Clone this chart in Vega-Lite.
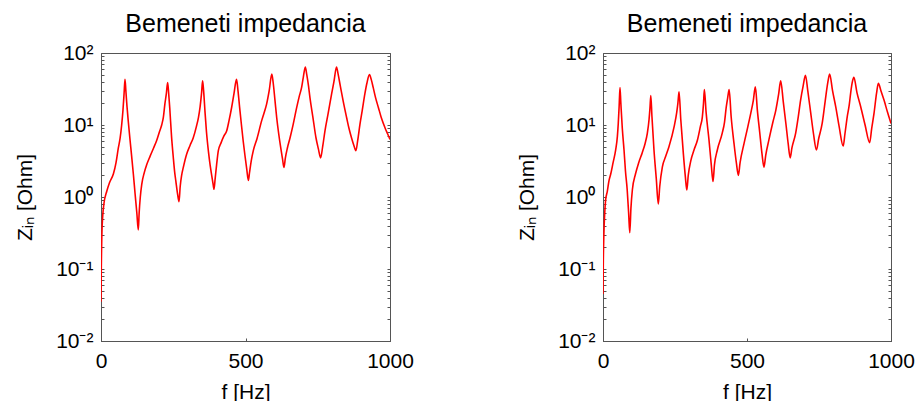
{
  "$schema": "https://vega.github.io/schema/vega-lite/v6.json",
  "padding": {"left": 14, "top": 11, "right": 5, "bottom": 5},
  "background": "white",
  "spacing": 102,
  "config": {
    "font": "Liberation Sans",
    "view": {"stroke": "#555555", "strokeWidth": 1},
    "axis": {
      "domainColor": "#555555",
      "domainWidth": 1,
      "tickColor": "#555555",
      "tickSize": -3,
      "grid": false,
      "minExtent": 0,
      "labelFont": "Liberation Sans",
      "labelFontSize": 21,
      "labelColor": "black",
      "titleFont": "Liberation Sans",
      "titleFontSize": 21,
      "titleFontWeight": "normal",
      "titleColor": "black",
      "labelFlush": false,
      "labelOverlap": false
    },
    "title": {"font": "Liberation Sans", "fontSize": 25, "fontWeight": "normal", "color": "black"}
  },
  "datasets": {
    "a": [
      {"f": 0, "z": 0.035}, {"f": 1, "z": 0.1}, {"f": 3, "z": 0.3}, {"f": 6, "z": 0.55}, {"f": 10, "z": 0.8},
      {"f": 20, "z": 1.2}, {"f": 30, "z": 1.6}, {"f": 43, "z": 2.1}, {"f": 52, "z": 3.0}, {"f": 60, "z": 4.8},
      {"f": 66, "z": 6.5}, {"f": 71.5, "z": 10}, {"f": 76, "z": 16}, {"f": 80, "z": 28}, {"f": 83, "z": 43},
      {"f": 86, "z": 30}, {"f": 90, "z": 18}, {"f": 94.6, "z": 11}, {"f": 100, "z": 6.5}, {"f": 106, "z": 3.7},
      {"f": 112, "z": 2.07}, {"f": 118, "z": 1.1}, {"f": 124, "z": 0.6}, {"f": 129, "z": 0.35}, {"f": 132, "z": 0.6},
      {"f": 136, "z": 1.0}, {"f": 141, "z": 1.5}, {"f": 150, "z": 2.2}, {"f": 158, "z": 2.8}, {"f": 170, "z": 3.7},
      {"f": 182, "z": 4.8}, {"f": 192, "z": 6}, {"f": 202, "z": 8}, {"f": 210, "z": 10}, {"f": 216, "z": 13},
      {"f": 221, "z": 19.5}, {"f": 226, "z": 27}, {"f": 230.6, "z": 39}, {"f": 234, "z": 28}, {"f": 238, "z": 17},
      {"f": 244, "z": 7}, {"f": 250, "z": 3.6}, {"f": 255, "z": 2.2}, {"f": 259, "z": 1.66}, {"f": 265, "z": 1.1},
      {"f": 270, "z": 0.86}, {"f": 274, "z": 1.4}, {"f": 279, "z": 2.0}, {"f": 285, "z": 2.6}, {"f": 296, "z": 3.9},
      {"f": 308, "z": 5.2}, {"f": 319, "z": 6.6}, {"f": 330, "z": 9.5}, {"f": 337, "z": 12.6}, {"f": 343, "z": 18},
      {"f": 348, "z": 28}, {"f": 351.5, "z": 41}, {"f": 355, "z": 30}, {"f": 360, "z": 15}, {"f": 365, "z": 8},
      {"f": 372, "z": 4.2}, {"f": 378, "z": 2.7}, {"f": 383, "z": 2.0}, {"f": 388, "z": 1.5}, {"f": 391, "z": 1.28},
      {"f": 395, "z": 1.8}, {"f": 400, "z": 2.8}, {"f": 406, "z": 4.4}, {"f": 415, "z": 5.6}, {"f": 425, "z": 7},
      {"f": 435, "z": 8.3}, {"f": 443, "z": 11.5}, {"f": 452, "z": 17.5}, {"f": 460, "z": 27}, {"f": 469, "z": 43},
      {"f": 474, "z": 30}, {"f": 480, "z": 17}, {"f": 486, "z": 10}, {"f": 492, "z": 6}, {"f": 498, "z": 3.8},
      {"f": 504, "z": 2.5}, {"f": 510, "z": 1.7}, {"f": 514, "z": 2.2}, {"f": 520, "z": 3.2}, {"f": 527, "z": 4.4},
      {"f": 540, "z": 6.5}, {"f": 556, "z": 11.5}, {"f": 565, "z": 15}, {"f": 573, "z": 19.5}, {"f": 582, "z": 30},
      {"f": 591, "z": 51}, {"f": 596, "z": 38}, {"f": 602, "z": 22}, {"f": 608, "z": 12.6}, {"f": 615, "z": 7.5},
      {"f": 622, "z": 4.8}, {"f": 628, "z": 3.4}, {"f": 633, "z": 2.57}, {"f": 638, "z": 3.5}, {"f": 645, "z": 4.8},
      {"f": 654, "z": 6.6}, {"f": 665, "z": 10.2}, {"f": 677, "z": 17.4}, {"f": 686, "z": 25}, {"f": 694, "z": 33},
      {"f": 700, "z": 46}, {"f": 707, "z": 64}, {"f": 712, "z": 50}, {"f": 718, "z": 35}, {"f": 723, "z": 24},
      {"f": 733, "z": 13}, {"f": 744, "z": 6.6}, {"f": 752, "z": 4.7}, {"f": 760, "z": 3.5}, {"f": 767, "z": 5},
      {"f": 775, "z": 8.3}, {"f": 786, "z": 14.5}, {"f": 798, "z": 27}, {"f": 806, "z": 40}, {"f": 815, "z": 64},
      {"f": 820, "z": 52}, {"f": 828, "z": 35}, {"f": 838, "z": 21.4}, {"f": 850, "z": 12.6}, {"f": 858, "z": 9},
      {"f": 867, "z": 6.6}, {"f": 875, "z": 5.2}, {"f": 882, "z": 4.4}, {"f": 888, "z": 6}, {"f": 896, "z": 10.2},
      {"f": 904, "z": 16}, {"f": 913, "z": 27}, {"f": 920, "z": 38}, {"f": 929, "z": 50}, {"f": 935, "z": 43},
      {"f": 942, "z": 33}, {"f": 950, "z": 24}, {"f": 960, "z": 17.4}, {"f": 970, "z": 12.6}, {"f": 983, "z": 9.1},
      {"f": 992, "z": 7.5}, {"f": 1000, "z": 6.3}
    ],
    "b": [
      {"f": 0, "z": 0.045}, {"f": 1, "z": 0.12}, {"f": 3, "z": 0.3}, {"f": 6, "z": 0.6}, {"f": 9, "z": 0.9},
      {"f": 15, "z": 1.2}, {"f": 21, "z": 1.7}, {"f": 27, "z": 2.1}, {"f": 35, "z": 3}, {"f": 44, "z": 4.5},
      {"f": 50, "z": 7}, {"f": 53, "z": 10.5}, {"f": 56, "z": 18}, {"f": 59, "z": 33}, {"f": 62, "z": 20},
      {"f": 67, "z": 9}, {"f": 73, "z": 4.5}, {"f": 78, "z": 2.3}, {"f": 84, "z": 1.26}, {"f": 89, "z": 0.6},
      {"f": 93, "z": 0.32}, {"f": 97, "z": 0.7}, {"f": 102, "z": 1.26}, {"f": 113, "z": 2.1}, {"f": 124, "z": 3},
      {"f": 136, "z": 4.1}, {"f": 146, "z": 5.5}, {"f": 154, "z": 7.7}, {"f": 160, "z": 12}, {"f": 163, "z": 17},
      {"f": 166, "z": 25.6}, {"f": 170, "z": 13}, {"f": 177, "z": 4.5}, {"f": 185, "z": 1.8}, {"f": 192, "z": 0.8},
      {"f": 197, "z": 1.4}, {"f": 206, "z": 2.6}, {"f": 218, "z": 3.7}, {"f": 229, "z": 5}, {"f": 247, "z": 9.5},
      {"f": 256, "z": 15}, {"f": 260, "z": 20}, {"f": 264, "z": 29}, {"f": 270, "z": 12}, {"f": 279, "z": 4},
      {"f": 286, "z": 1.9}, {"f": 291, "z": 1.25}, {"f": 296, "z": 2}, {"f": 305, "z": 3.2}, {"f": 316, "z": 4.5},
      {"f": 328, "z": 6.2}, {"f": 338, "z": 9.5}, {"f": 345, "z": 13}, {"f": 349, "z": 20}, {"f": 352, "z": 31},
      {"f": 358, "z": 15}, {"f": 368, "z": 6.2}, {"f": 376, "z": 2.8}, {"f": 382, "z": 1.64}, {"f": 387, "z": 2.8},
      {"f": 397, "z": 4.5}, {"f": 414, "z": 7.7}, {"f": 422, "z": 11}, {"f": 428, "z": 17.8}, {"f": 433, "z": 24},
      {"f": 438, "z": 31}, {"f": 445, "z": 13}, {"f": 455, "z": 5.5}, {"f": 463, "z": 3}, {"f": 470, "z": 2.0},
      {"f": 476, "z": 3}, {"f": 490, "z": 5.6}, {"f": 503, "z": 9.5}, {"f": 513, "z": 14.5}, {"f": 522, "z": 22},
      {"f": 529, "z": 34}, {"f": 536, "z": 16}, {"f": 544, "z": 8}, {"f": 552, "z": 4}, {"f": 559, "z": 2.6},
      {"f": 565, "z": 3.8}, {"f": 576, "z": 6.2}, {"f": 590, "z": 11}, {"f": 600, "z": 16}, {"f": 610, "z": 27},
      {"f": 617, "z": 41}, {"f": 626, "z": 21}, {"f": 635, "z": 10.5}, {"f": 643, "z": 5.5}, {"f": 650, "z": 3.5},
      {"f": 656, "z": 4.8}, {"f": 669, "z": 7.7}, {"f": 678, "z": 13}, {"f": 686, "z": 22}, {"f": 695, "z": 35},
      {"f": 703, "z": 49}, {"f": 711, "z": 30}, {"f": 721, "z": 15}, {"f": 731, "z": 7.5}, {"f": 741, "z": 4.5},
      {"f": 749, "z": 6.5}, {"f": 761, "z": 10.5}, {"f": 769, "z": 18}, {"f": 775, "z": 27.5}, {"f": 781, "z": 40},
      {"f": 787, "z": 51}, {"f": 797, "z": 30}, {"f": 808, "z": 18}, {"f": 820, "z": 9.5}, {"f": 834, "z": 5.1},
      {"f": 840, "z": 7.5}, {"f": 848, "z": 13}, {"f": 855, "z": 19}, {"f": 860, "z": 28}, {"f": 866, "z": 40},
      {"f": 871, "z": 46}, {"f": 882, "z": 28}, {"f": 895, "z": 17.8}, {"f": 910, "z": 10}, {"f": 926, "z": 5.7},
      {"f": 933, "z": 9}, {"f": 941, "z": 14.5}, {"f": 950, "z": 28}, {"f": 956, "z": 38}, {"f": 965, "z": 30},
      {"f": 976, "z": 22}, {"f": 988, "z": 15}, {"f": 1000, "z": 10.5}
    ]
  },
  "hconcat": [
    {
      "width": 289,
      "height": 288,
      "title": {"text": "Bemeneti impedancia", "baseline": "alphabetic", "offset": -15},
      "layer": [
        {
          "data": {"name": "a"},
          "mark": {"type": "line", "color": "#ff0000", "strokeWidth": 1.6, "interpolate": "monotone", "clip": true},
          "encoding": {
            "x": {"field": "f", "type": "quantitative", "scale": {"domain": [0, 1000], "nice": false, "zero": false},
              "axis": {"orient": "bottom", "values": [0, 500, 1000], "format": "d", "title": "f [Hz]", "labelPadding": 12, "titlePadding": 10}},
            "y": {"field": "z", "type": "quantitative", "scale": {"type": "log", "domain": [0.01, 100], "nice": false},
              "axis": {"orient": "left", "title": "Zᵢₙ [Ohm]", "labelPadding": 11, "titlePadding": 20,
                "values": [0.01, 0.02, 0.03, 0.04, 0.05, 0.06, 0.07, 0.08, 0.09, 0.1, 0.2, 0.3, 0.4, 0.5, 0.6, 0.7, 0.8, 0.9, 1, 2, 3, 4, 5, 6, 7, 8, 9, 10, 20, 30, 40, 50, 60, 70, 80, 90, 100],
                "labelExpr": "datum.value == 100 ? '10²' : datum.value == 10 ? '10¹' : datum.value == 1 ? '10⁰' : datum.value == 0.1 ? '10⁻¹' : datum.value == 0.01 ? '10⁻²' : ''"}}
          }
        },
        {
          "data": {"name": "a"},
          "mark": {"type": "line", "opacity": 0},
          "encoding": {
            "x": {"field": "f", "type": "quantitative"},
            "y": {"field": "z", "type": "quantitative", "axis": {"orient": "right", "labels": false, "title": null, "minExtent": 0, "maxExtent": 0,
              "values": [0.01, 0.02, 0.03, 0.04, 0.05, 0.06, 0.07, 0.08, 0.09, 0.1, 0.2, 0.3, 0.4, 0.5, 0.6, 0.7, 0.8, 0.9, 1, 2, 3, 4, 5, 6, 7, 8, 9, 10, 20, 30, 40, 50, 60, 70, 80, 90, 100]}}
          }
        }
      ],
      "resolve": {"axis": {"y": "independent"}}
    },
    {
      "width": 288,
      "height": 288,
      "title": {"text": "Bemeneti impedancia", "baseline": "alphabetic", "offset": -15},
      "layer": [
        {
          "data": {"name": "b"},
          "mark": {"type": "line", "color": "#ff0000", "strokeWidth": 1.6, "interpolate": "monotone", "clip": true},
          "encoding": {
            "x": {"field": "f", "type": "quantitative", "scale": {"domain": [0, 1000], "nice": false, "zero": false},
              "axis": {"orient": "bottom", "values": [0, 500, 1000], "format": "d", "title": "f [Hz]", "labelPadding": 12, "titlePadding": 10}},
            "y": {"field": "z", "type": "quantitative", "scale": {"type": "log", "domain": [0.01, 100], "nice": false},
              "axis": {"orient": "left", "title": "Zᵢₙ [Ohm]", "labelPadding": 11, "titlePadding": 20,
                "values": [0.01, 0.02, 0.03, 0.04, 0.05, 0.06, 0.07, 0.08, 0.09, 0.1, 0.2, 0.3, 0.4, 0.5, 0.6, 0.7, 0.8, 0.9, 1, 2, 3, 4, 5, 6, 7, 8, 9, 10, 20, 30, 40, 50, 60, 70, 80, 90, 100],
                "labelExpr": "datum.value == 100 ? '10²' : datum.value == 10 ? '10¹' : datum.value == 1 ? '10⁰' : datum.value == 0.1 ? '10⁻¹' : datum.value == 0.01 ? '10⁻²' : ''"}}
          }
        },
        {
          "data": {"name": "b"},
          "mark": {"type": "line", "opacity": 0},
          "encoding": {
            "x": {"field": "f", "type": "quantitative"},
            "y": {"field": "z", "type": "quantitative", "axis": {"orient": "right", "labels": false, "title": null, "minExtent": 0, "maxExtent": 0,
              "values": [0.01, 0.02, 0.03, 0.04, 0.05, 0.06, 0.07, 0.08, 0.09, 0.1, 0.2, 0.3, 0.4, 0.5, 0.6, 0.7, 0.8, 0.9, 1, 2, 3, 4, 5, 6, 7, 8, 9, 10, 20, 30, 40, 50, 60, 70, 80, 90, 100]}}
          }
        }
      ],
      "resolve": {"axis": {"y": "independent"}}
    }
  ]
}
